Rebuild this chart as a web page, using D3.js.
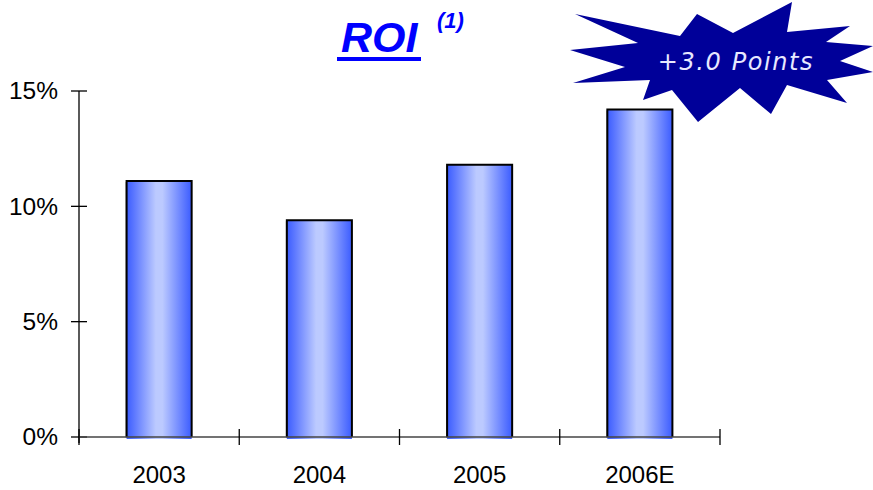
<!DOCTYPE html>
<html>
<head>
<meta charset="utf-8">
<script src="https://cdn.jsdelivr.net/npm/d3@7"></script>
<style>
  html, body { margin: 0; padding: 0; background: #fff; }
  svg { display: block; }
</style>
</head>
<body>
<svg id="chart" width="873" height="490"></svg>
<script>
// ROI by year (percent)
const years = ["2003", "2004", "2005", "2006E"];
const roi = [11.1, 9.4, 11.8, 14.2];
const yTicks = [0, 5, 10, 15];
const titleText = "ROI";
const titleNote = "(1)";
const burstText = "+3.0 Points";
// starburst outline, in page coordinates
const burstPts = [
  [575,14],[680,36],[697,14],[733,33],[792,2],[787,32],[850,26],[826,42],
  [873,46],[840,61],[873,72],[827,80],[847,103],[787,85],[771,114],[740,88],
  [698,122],[672,90],[643,100],[650,80],[573,83],[625,67],[570,50],[638,43]
];

const svg = d3.select("#chart");
const font = "'Liberation Sans', Arial, sans-serif";

const x0 = 79, x1 = 720, yBase = 437, yTop = 91;
const x = d3.scaleBand().domain(years).range([x0, x1])
  .paddingInner(0.594).paddingOuter(0.297);
const y = d3.scaleLinear().domain([0, 15]).range([yBase, yTop]);

// horizontal gradient for bars
const defs = svg.append("defs");
const grad = defs.append("linearGradient").attr("id", "barGrad")
  .attr("x1", "0%").attr("x2", "100%").attr("y1", "0%").attr("y2", "0%");
[[0, "#3b5cff"], [0.15, "#6680ff"], [0.45, "#bccaff"], [0.55, "#bccaff"], [0.85, "#6680ff"], [1, "#3b5cff"]]
  .forEach(([o, c]) => grad.append("stop").attr("offset", o).attr("stop-color", c));

// bars
const bars = svg.append("g");
years.forEach((yr, i) => {
  const bx = x(yr), bw = x.bandwidth(), by = y(roi[i]);
  bars.append("rect")
    .attr("x", bx - 1).attr("y", by + 1).attr("width", 1.5).attr("height", yBase - by)
    .attr("fill", "#999");
  bars.append("rect")
    .attr("x", bx).attr("y", by).attr("width", bw).attr("height", yBase + 2 - by)
    .attr("fill", "url(#barGrad)");
  bars.append("path")
    .attr("d", `M${bx},${yBase}V${by}H${bx + bw}V${yBase}`)
    .attr("fill", "none").attr("stroke", "#000").attr("stroke-width", 2);
});

// y axis
const yAxis = svg.append("g").attr("transform", `translate(${x0},0)`)
  .call(d3.axisLeft(y).tickValues(yTicks).tickFormat(d => d + "%").tickSize(0).tickPadding(21));
yAxis.select(".domain").remove();
yAxis.selectAll("text").attr("font-family", font).attr("font-size", 24.5).attr("fill", "#000");
svg.append("line").attr("x1", x0).attr("x2", x0).attr("y1", yTop).attr("y2", yBase + 6)
  .attr("stroke", "#000").attr("stroke-width", 1.3);
yTicks.forEach(t => {
  svg.append("line").attr("x1", x0 - 8).attr("x2", x0 + 8).attr("y1", y(t)).attr("y2", y(t))
    .attr("stroke", "#000").attr("stroke-width", 1.3);
});

// x axis
svg.append("line").attr("x1", x0).attr("x2", x1).attr("y1", yBase).attr("y2", yBase)
  .attr("stroke", "#444").attr("stroke-width", 1.5);
const step = x.step();
d3.range(years.length + 1).forEach(k => {
  const tx = x0 + k * step;
  svg.append("line").attr("x1", tx).attr("x2", tx).attr("y1", yBase - 8).attr("y2", yBase + 8)
    .attr("stroke", "#000").attr("stroke-width", 1.3);
});
svg.append("g").selectAll("text").data(years).join("text")
  .attr("x", d => x(d) + x.bandwidth() / 2).attr("y", 483)
  .attr("text-anchor", "middle").attr("font-family", font).attr("font-size", 24)
  .attr("fill", "#000").text(d => d);

// title
svg.append("text").attr("x", 341).attr("y", 52)
  .attr("font-family", font).attr("font-size", 43).attr("font-weight", "bold")
  .attr("font-style", "italic").attr("fill", "#0000ff").text(titleText);
svg.append("rect").attr("x", 337).attr("y", 57).attr("width", 84).attr("height", 4).attr("fill", "#0000ff");
svg.append("text").attr("x", 437).attr("y", 28)
  .attr("font-family", font).attr("font-size", 22).attr("font-weight", "bold")
  .attr("font-style", "italic").attr("fill", "#0000ff").text(titleNote);

// starburst callout
svg.append("polygon").attr("points", burstPts.map(p => p.join(",")).join(" "))
  .attr("fill", "#000099");
svg.append("text").attr("x", 736).attr("y", 70).attr("text-anchor", "middle")
  .attr("font-family", "'DejaVu Sans', Verdana, sans-serif").attr("font-size", 24)
  .attr("font-style", "italic").attr("font-weight", 300).attr("letter-spacing", 1.6)
  .attr("fill", "#e8e8ff").text(burstText);
</script>
</body>
</html>
